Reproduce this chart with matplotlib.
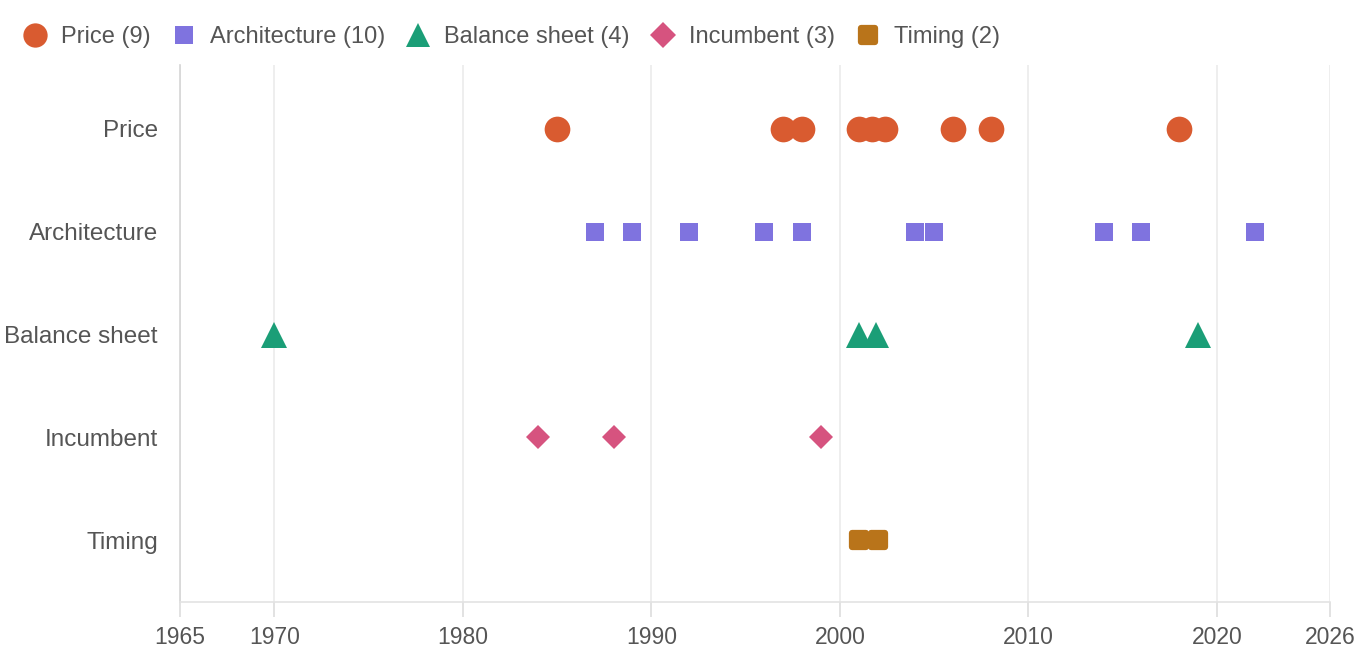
import matplotlib.pyplot as plt
from matplotlib.lines import Line2D
from matplotlib.markers import MarkerStyle

plt.rcParams['font.family'] = ['Liberation Sans', 'DejaVu Sans']

# Category rows (top to bottom) and the years in each
categories = ["Price", "Architecture", "Balance sheet", "Incumbent", "Timing"]
price_years = [1985, 1997, 1998, 2001, 2001.7, 2002.4, 2006, 2008, 2018]
architecture_years = [1987, 1989, 1992, 1996, 1998, 2004, 2005, 2014, 2016, 2022]
balance_years = [1970, 2001, 2001.9, 2019]
incumbent_years = [1984, 1988, 1999]
timing_years = [2001, 2002]
xticks = [1965, 1970, 1980, 1990, 2000, 2010, 2020, 2026]

series = [
    ("Price", price_years, "o", "#D95B30", 18.5),
    ("Architecture", architecture_years, "s", "#7F73DF", 13),
    ("Balance sheet", balance_years, "^", "#1B9E77", 19),
    ("Incumbent", incumbent_years, "D", "#D6537F", 12),
    ("Timing", timing_years, "s", "#B9741A", 10.5),
]

fig = plt.figure(figsize=(13.64, 6.6), dpi=100)
ax = fig.add_axes([180 / 1364, 58 / 660, 1150 / 1364, 537 / 660])

handles = []
for i, (name, years, marker, color, size) in enumerate(series):
    if name == "Timing":
        # rounded squares: round-joined thick edge
        m = MarkerStyle("s", joinstyle="round")
        ax.plot(years, [i] * len(years), marker=m, color=color, markersize=size,
                markeredgewidth=4.5, markeredgecolor=color,
                linestyle="none", zorder=3)
        handles.append(Line2D([], [], marker=m, color=color, linestyle="none",
                              markersize=size, markeredgewidth=4.5,
                              label=f"{name} ({len(years)})"))
    else:
        ax.plot(years, [i] * len(years), marker=marker, color=color,
                markersize=size, markeredgewidth=0, linestyle="none", zorder=3)
        hsize = {"o": 17.5, "s": 12.5, "^": 17, "D": 13}[marker]
        handles.append(Line2D([], [], marker=marker, color=color, linestyle="none",
                              markersize=hsize, markeredgewidth=0,
                              label=f"{name} ({len(years)})"))

ax.set_xlim(1965, 2026)
ax.set_ylim(4.6, -0.62)
ax.set_xticks(xticks)
ax.set_yticks(range(len(categories)))
ax.set_yticklabels(categories)
ax.grid(axis="x", color="#EBEBEB", linewidth=1.2, zorder=0)
ax.tick_params(axis="x", colors="#DDDDDD", labelcolor="#555555", labelsize=16.5,
               length=11, width=1.2, pad=6)
ax.tick_params(axis="y", length=0, labelcolor="#555555", labelsize=17.5, pad=16)
for side in ["top", "right"]:
    ax.spines[side].set_visible(False)
ax.spines["left"].set_color("#D5D5D5")
ax.spines["bottom"].set_color("#E3E3E3")
ax.spines["left"].set_linewidth(1.2)
ax.spines["bottom"].set_linewidth(1.2)

fig.legend(handles=handles, loc="upper left", bbox_to_anchor=(0.0, 0.993),
           ncol=5, frameon=False, fontsize=17, handletextpad=0.5,
           handlelength=1.2, columnspacing=0.8, labelcolor="#555555")

fig.savefig("out.png", dpi=100)
